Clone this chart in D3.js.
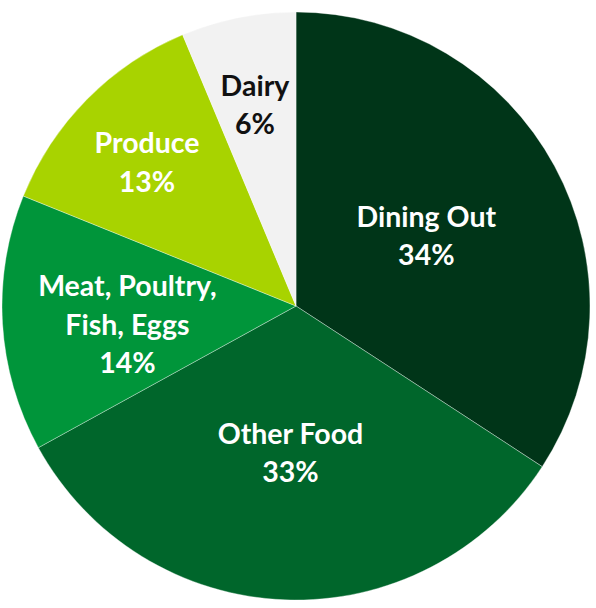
<!DOCTYPE html>
<html><head><meta charset="utf-8">
<script src="https://cdn.jsdelivr.net/npm/d3@7"></script>
<style>html,body{margin:0;padding:0;background:#fff;}</style>
</head><body>
<svg id="chart" width="596" height="608"></svg>
<script>
const categories = ["Dining Out", "Other Food", "Meat, Poultry, Fish, Eggs", "Produce", "Dairy"];
const labelLines = [["Dining Out"], ["Other Food"], ["Meat, Poultry,", "Fish, Eggs"], ["Produce"], ["Dairy"]];
const values = [34.2, 32.8, 14.1, 12.6, 6.3];
const colors = ["#003518", "#00662b", "#00953a", "#a8d300", "#f2f2f2"];
const textColors = ["#ffffff", "#ffffff", "#ffffff", "#ffffff", "#111111"];

// layout
const cx = 296, cy = 306, R = 294;
const labelRadiusFactor = [0.503, 0.5, 0.577, 0.704, 0.698];
const labelAngleOffsetDeg = [0.24, 0, -2.9, -0.7, -0.2];
const fontSize = 28.5, lineH = 38.5;

const svg = d3.select("#chart");
const g = svg.append("g").attr("transform", `translate(${cx},${cy})`);
const data = values.map((v, i) => ({cat: categories[i], v, i}));
const pie = d3.pie().value(d => d.v).sort(null);
const arc = d3.arc().innerRadius(0).outerRadius(R);
const arcs = pie(data);
const total = d3.sum(values);

g.selectAll("path").data(arcs).join("path")
  .attr("d", arc)
  .attr("fill", d => colors[d.data.i])
  .attr("stroke", "#ffffff").attr("stroke-width", 0.7).attr("stroke-opacity", 0.5);

arcs.forEach(d => {
  const i = d.data.i;
  const r = R * labelRadiusFactor[i];
  const a = (d.startAngle + d.endAngle) / 2 + labelAngleOffsetDeg[i] * Math.PI / 180;
  const x = r * Math.sin(a), y = -r * Math.cos(a);
  const pct = Math.round(values[i] / total * 100) + "%";
  const lines = labelLines[i].concat([pct]);
  const n = lines.length;
  const t = g.append("text")
    .attr("text-anchor", "middle")
    .attr("font-family", "Lato, 'Open Sans', sans-serif")
    .attr("font-weight", "bold")
    .attr("font-size", fontSize)
    .attr("fill", textColors[i]);
  lines.forEach((s, k) => {
    t.append("tspan").attr("x", x)
      .attr("y", y + (k - (n - 1) / 2) * lineH)
      .attr("dy", "0.35em")
      .text(s);
  });
});
</script>
</body></html>
